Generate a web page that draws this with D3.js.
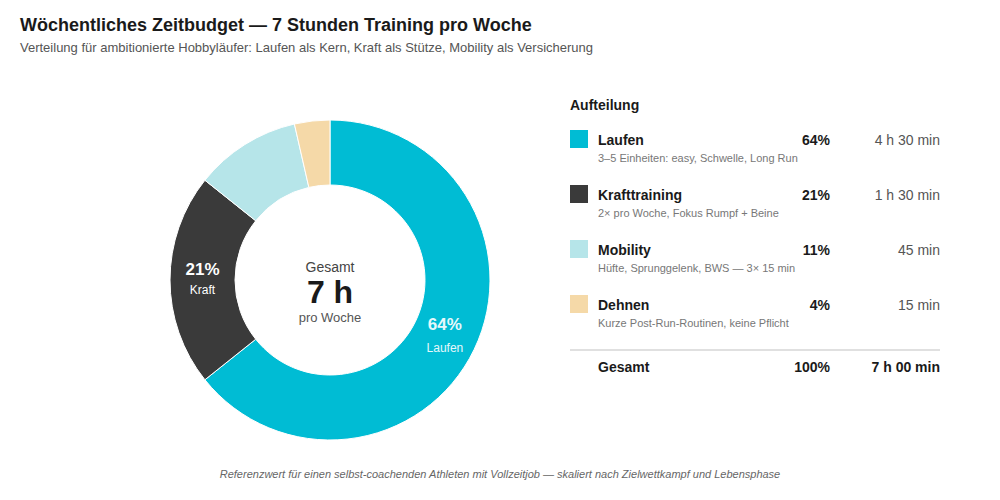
<!DOCTYPE html>
<html lang="de">
  <head>
    <meta charset="UTF-8" />
    <title>Zeitbudget</title>
    <script src="https://cdn.jsdelivr.net/npm/d3@7/dist/d3.min.js"></script>
    <style>
      body { margin: 0; background: #fff; font-family: "Liberation Sans", Arial, sans-serif; }
    </style>
  </head>
  <body>
    <div id="wrapper"></div>
    <script>
      const keys = ["Laufen", "Krafttraining", "Mobility", "Dehnen"];
      const shortLabels = ["Laufen", "Kraft", "Mobility", "Dehnen"];
      const minutes = [270, 90, 45, 15];
      const pctLabels = ["64%", "21%", "11%", "4%"];
      const timeLabels = ["4 h 30 min", "1 h 30 min", "45 min", "15 min"];
      const notes = [
        "3–5 Einheiten: easy, Schwelle, Long Run",
        "2× pro Woche, Fokus Rumpf + Beine",
        "Hüfte, Sprunggelenk, BWS — 3× 15 min",
        "Kurze Post-Run-Routinen, keine Pflicht",
      ];
      const colors = ["#00bcd4", "#3a3a3a", "#b6e5e9", "#f5d9a8"];
      const showInside = [true, true, false, false];

      const width = 1000, height = 500;
      const svg = d3.select("#wrapper").append("svg")
        .attr("width", width).attr("height", height);

      // titles
      svg.append("text").attr("x", 20).attr("y", 31)
        .attr("font-size", 18).attr("font-weight", "bold").attr("fill", "#1a1a1a")
        .text("Wöchentliches Zeitbudget — 7 Stunden Training pro Woche");
      svg.append("text").attr("x", 20).attr("y", 52)
        .attr("font-size", 13).attr("fill", "#555")
        .text("Verteilung für ambitionierte Hobbyläufer: Laufen als Kern, Kraft als Stütze, Mobility als Versicherung");

      // donut
      const cx = 330, cy = 280, outerR = 160, innerR = 95;
      const data = keys.map((k, i) => ({ key: k, i, value: minutes[i] }));
      const pie = d3.pie().value(d => d.value).sort(null);
      const arc = d3.arc().innerRadius(innerR).outerRadius(outerR);
      const labelArc = d3.arc().innerRadius((innerR + outerR) / 2).outerRadius((innerR + outerR) / 2);
      const arcs = pie(data);

      const donut = svg.append("g").attr("transform", `translate(${cx},${cy})`);
      donut.selectAll("path").data(arcs).join("path")
        .attr("d", arc)
        .attr("fill", d => colors[d.data.i])
        .attr("stroke", "#fff").attr("stroke-width", 1);

      const labels = donut.selectAll("g.lbl").data(arcs.filter(d => showInside[d.data.i]))
        .join("g").attr("class", "lbl")
        .attr("transform", d => `translate(${labelArc.centroid(d)})`);
      labels.append("text").attr("text-anchor", "middle").attr("y", -5)
        .attr("font-size", 17).attr("font-weight", "bold")
        .attr("fill", d => d.data.i === 0 ? "#e6f8fb" : "#fff")
        .text(d => pctLabels[d.data.i]);
      labels.append("text").attr("text-anchor", "middle").attr("y", d => d.data.i === 0 ? 17 : 14)
        .attr("font-size", 12)
        .attr("fill", d => d.data.i === 0 ? "#e6f8fb" : "#fff")
        .text(d => shortLabels[d.data.i]);

      // center
      donut.append("text").attr("text-anchor", "middle").attr("y", -8)
        .attr("font-size", 14).attr("fill", "#444").text("Gesamt");
      donut.append("text").attr("text-anchor", "middle").attr("y", 23)
        .attr("font-size", 32).attr("font-weight", "bold").attr("fill", "#1a1a1a").text("7 h");
      donut.append("text").attr("text-anchor", "middle").attr("y", 42)
        .attr("font-size", 13).attr("fill", "#555").text("pro Woche");

      // legend
      const lx = 570, pctX = 830, timeX = 940;
      const legend = svg.append("g");
      legend.append("text").attr("x", lx).attr("y", 110)
        .attr("font-size", 14).attr("font-weight", "bold").attr("fill", "#1a1a1a").text("Aufteilung");

      const rowY = d3.scaleLinear().domain([0, 1]).range([130, 185]);
      const rows = legend.selectAll("g.row").data(data).join("g").attr("class", "row")
        .attr("transform", d => `translate(0,${rowY(d.i)})`);
      rows.append("rect").attr("x", lx).attr("y", 0).attr("width", 18).attr("height", 18)
        .attr("fill", d => colors[d.i]);
      rows.append("text").attr("x", lx + 28).attr("y", 15)
        .attr("font-size", 14).attr("font-weight", "bold").attr("fill", "#1a1a1a").text(d => d.key);
      rows.append("text").attr("x", pctX).attr("y", 15).attr("text-anchor", "end")
        .attr("font-size", 14).attr("font-weight", "bold").attr("fill", "#1a1a1a").text(d => pctLabels[d.i]);
      rows.append("text").attr("x", timeX).attr("y", 15).attr("text-anchor", "end")
        .attr("font-size", 14).attr("fill", "#555").text(d => timeLabels[d.i]);
      rows.append("text").attr("x", lx + 28).attr("y", 32)
        .attr("font-size", 11).attr("fill", "#777").text(d => notes[d.i]);

      legend.append("line").attr("x1", lx).attr("x2", timeX).attr("y1", 350).attr("y2", 350)
        .attr("stroke", "#e0e0e0").attr("stroke-width", 2);
      legend.append("text").attr("x", lx + 28).attr("y", 372)
        .attr("font-size", 14).attr("font-weight", "bold").attr("fill", "#1a1a1a").text("Gesamt");
      legend.append("text").attr("x", pctX).attr("y", 372).attr("text-anchor", "end")
        .attr("font-size", 14).attr("font-weight", "bold").attr("fill", "#1a1a1a").text("100%");
      legend.append("text").attr("x", timeX).attr("y", 372).attr("text-anchor", "end")
        .attr("font-size", 14).attr("font-weight", "bold").attr("fill", "#1a1a1a").text("7 h 00 min");

      // footer
      svg.append("text").attr("x", width / 2).attr("y", 478).attr("text-anchor", "middle")
        .attr("font-size", 11).attr("font-style", "italic").attr("fill", "#666")
        .text("Referenzwert für einen selbst-coachenden Athleten mit Vollzeitjob — skaliert nach Zielwettkampf und Lebensphase");
    </script>
  </body>
</html>
